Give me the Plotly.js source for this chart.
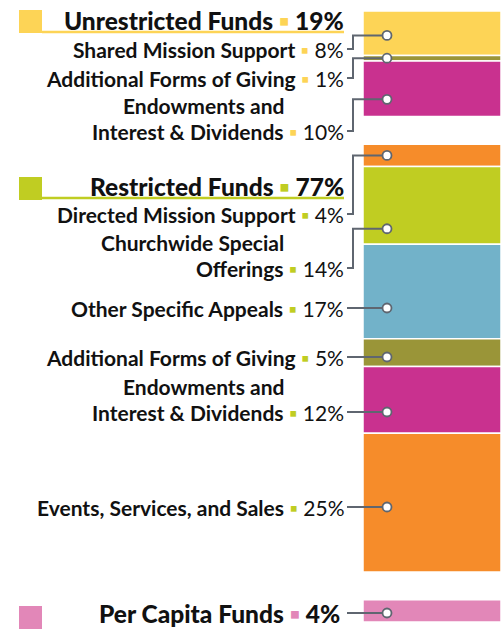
<!DOCTYPE html>
<html><head><meta charset="utf-8">
<script src="https://cdn.plot.ly/plotly-3.0.1.min.js"></script>
<style>html,body{margin:0;padding:0;background:#fff;overflow:hidden}</style>
</head><body><div id="chart" style="width:501px;height:629px"></div>
<script>
// ---------- data ----------
const groups = ["Unrestricted Funds", "Restricted Funds", "Per Capita Funds"];
const groupTotals = [19, 77, 4];
const categories = [
  "Shared Mission Support",
  "Additional Forms of Giving",
  "Endowments and<br>Interest & Dividends",
  "Directed Mission Support",
  "Churchwide Special<br>Offerings",
  "Other Specific Appeals",
  "Additional Forms of Giving",
  "Endowments and<br>Interest & Dividends",
  "Events, Services, and Sales",
  "Per Capita Funds"
];
const categoryGroup = [0, 0, 0, 1, 1, 1, 1, 1, 1, 2];
const values = [8, 1, 10, 4, 14, 17, 5, 12, 25, 4];

// ---------- styles ----------
const groupColors = ["#fdd456", "#c0cd22", "#e287b8"];
const segmentColors = ["#fdd456", "#9a9538", "#c9318f", "#f68c2a", "#c0cd22",
                       "#72b2c9", "#9a9538", "#c9318f", "#f68c2a", "#e287b8"];
const lineColor = "#5f6670";
const FONT = "Lato, 'Open Sans', sans-serif";

// ---------- layout geometry (pixels) ----------
const PX = {barLeft: 363, barRight: 501, top: 11, unit: 5.5545,
            textRight: 346, stubStart: 347, elbow: 353, dot: 387,
            squareLeft: 19, squareRight: 42, W: 501, H: 629};
const groupGap = 5;                      // gap between groups, in % units
const headerPx = [20, 186, 613];          // header text rows
const headerRightPx = [346, 346, 342];
const squareTopPx = [10, 177, 606];
const underlinePx = [32, 198, null];
const labelPx = [49, 78, 131, 214, 268, 308, 357, 412, 507, 613]; // last-line rows
const dotFrac = [0.55, 0.5, 0.69, 0.5, 0.8, null, null, null, null, null];
const subSize = 21, headSize = 24.5, lineGap = 25.5;

const xu = px => (px - PX.barLeft) / (PX.barRight - PX.barLeft);
const yu = px => (px - PX.top) / PX.unit;

// width of the " ▪ NN%" suffix, so earlier lines of a wrapped name align with the name's end
const ctx = document.createElement("canvas").getContext("2d");
ctx.font = `${subSize}px Lato`;
const suffixWidth = v => ctx.measureText(` ▪ ${v}%`).width;

// stacked bases with gaps between groups
const bases = [];
let acc = 0;
values.forEach((v, i) => {
  if (i > 0 && categoryGroup[i] !== categoryGroup[i - 1]) acc += groupGap;
  bases.push(acc);
  acc += v;
});

const traces = [];
traces.push({
  type: "bar",
  x: values.map(() => 0.5),
  y: values,
  base: bases,
  width: 1,
  marker: {color: segmentColors, line: {color: "#ffffff", width: 1.5}},
  hoverinfo: "skip"
});

const annotations = [];
const shapes = [];
const dotX = [], dotY = [];

// headers
groups.forEach((g, gi) => {
  const c = groupColors[gi];
  const hy = headerPx[gi];
  annotations.push({
    x: xu(headerRightPx[gi]), y: yu(hy), xref: "x", yref: "y",
    xanchor: "right", yanchor: "middle", showarrow: false,
    text: `${g} <span style="color:${c}">▪</span> ${groupTotals[gi]}%`,
    font: {family: FONT, size: headSize, color: "#111111", weight: 900}
  });
  shapes.push({type: "rect", xref: "x", yref: "y",
    x0: xu(PX.squareLeft), x1: xu(PX.squareRight),
    y0: yu(squareTopPx[gi]), y1: yu(squareTopPx[gi] + 23),
    fillcolor: c, line: {width: 0}});
  if (underlinePx[gi] !== null) {
    shapes.push({type: "line", xref: "x", yref: "y",
      x0: xu(PX.squareRight), x1: xu(PX.textRight - 2),
      y0: yu(underlinePx[gi]), y1: yu(underlinePx[gi]),
      line: {color: c, width: 2.5}});
  }
});

// category labels + connectors
categories.forEach((name, i) => {
  const gi = categoryGroup[i];
  const c = groupColors[gi];
  const ly = yu(labelPx[i]);
  const isHeader = name === groups[gi];
  if (!isHeader) {
    const lines = name.split("<br>");
    const n = lines.length;
    lines.forEach((l, k) => {
      const last = k === n - 1;
      annotations.push({
        x: xu(last ? PX.textRight : PX.textRight - suffixWidth(values[i])),
        y: yu(labelPx[i] - (n - 1 - k) * lineGap),
        xref: "x", yref: "y",
        xanchor: "right", yanchor: "middle", showarrow: false,
        text: `<b>${l}</b>` + (last ? ` <span style="color:${c}">▪</span> ${values[i]}%` : ""),
        font: {family: FONT, size: subSize, color: "#111111"}
      });
    });
  }
  const dy = dotFrac[i] === null ? ly : bases[i] + dotFrac[i] * values[i];
  dotX.push(xu(PX.dot)); dotY.push(dy);
  traces.push({
    type: "scatter", mode: "lines", hoverinfo: "skip",
    x: [xu(PX.stubStart), xu(PX.elbow), xu(PX.elbow), xu(PX.dot)],
    y: [ly, ly, dy, dy],
    line: {color: lineColor, width: 2}
  });
});

traces.push({
  type: "scatter", mode: "markers", x: dotX, y: dotY, hoverinfo: "skip",
  marker: {size: 9, color: "#ffffff", line: {color: lineColor, width: 1.8}},
  cliponaxis: false
});

const layout = {
  width: PX.W, height: PX.H,
  margin: {l: 0, r: 0, t: 0, b: 0, pad: 0},
  paper_bgcolor: "#ffffff", plot_bgcolor: "#ffffff",
  showlegend: false, bargap: 0,
  xaxis: {range: [xu(0), xu(PX.W)], visible: false, fixedrange: true},
  yaxis: {range: [yu(PX.H), yu(0)], visible: false, fixedrange: true},
  annotations: annotations,
  shapes: shapes
};

Plotly.newPlot("chart", traces, layout, {staticPlot: true, displayModeBar: false});
</script>
</body></html>
